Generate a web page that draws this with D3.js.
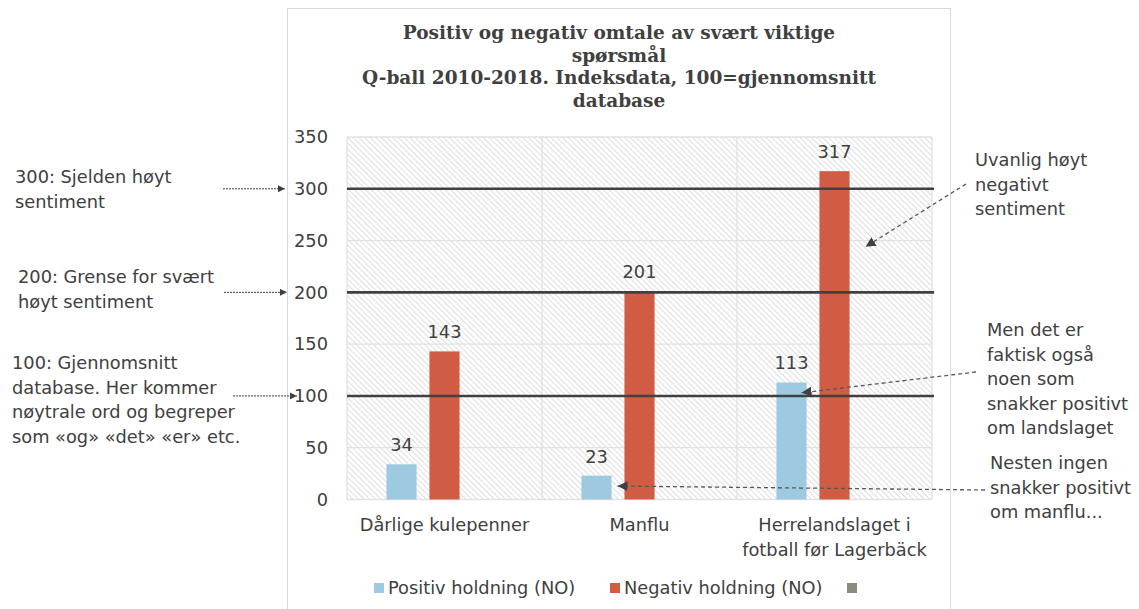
<!DOCTYPE html>
<meta charset="utf-8">
<script src="https://d3js.org/d3.v7.min.js"></script>
<style>
  body { margin: 0; background: #fff; }
  text { font-family: "DejaVu Sans", sans-serif; fill: #404040; }
</style>
<div id="my_dataviz"></div>
<script>

// chart data
var categories = ["Dårlige kulepenner", "Manflu", "Herrelandslaget i fotball før Lagerbäck"];
var categoryLines = [["Dårlige kulepenner"], ["Manflu"], ["Herrelandslaget i", "fotball før Lagerbäck"]];
var seriesNames = ["Positiv holdning (NO)", "Negativ holdning (NO)", ""];
var positiveValues = [34, 23, 113];
var negativeValues = [143, 201, 317];
var emptyValues = [null, null, null];
var yTicks = [0, 50, 100, 150, 200, 250, 300, 350];
var referenceLevels = [100, 200, 300];
var seriesColors = ["#9ecae1", "#d05c43", "#8c8b7e"];

var titleLines = ["Positiv og negativ omtale av svært viktige", "spørsmål",
    "Q-ball 2010-2018. Indeksdata, 100=gjennomsnitt", "database"];

// notes to the left point at the reference levels
var leftNotes = [
    { level: 300, lines: ["300: Sjelden høyt", "sentiment"] },
    { level: 200, lines: ["200: Grense for svært", "høyt sentiment"] },
    { level: 100, lines: ["100: Gjennomsnitt", "database. Her kommer", "nøytrale ord og begreper", "som «og» «det» «er» etc."] }
];
// notes to the right point at bars
var rightNotes = [
    { lines: ["Uvanlig høyt", "negativt", "sentiment"], cat: 2, series: 1, value: 244 },
    { lines: ["Men det er", "faktisk også", "noen som", "snakker positivt", "om landslaget"], cat: 2, series: 0, value: 103 },
    { lines: ["Nesten ingen", "snakker positivt", "om manflu..."], cat: 1, series: 0, value: 13 }
];

var W = 1139, H = 609;
var plot = { left: 347, right: 932, top: 137, bottom: 499.5 };
var fs = 17.8;

var svg = d3.select("#my_dataviz").append("svg")
    .attr("width", W).attr("height", H);

var defs = svg.append("defs");
var pat = defs.append("pattern")
    .attr("id", "hatch").attr("patternUnits", "userSpaceOnUse")
    .attr("width", 4).attr("height", 4)
    .attr("patternTransform", "rotate(-45)");
pat.append("rect").attr("width", 4).attr("height", 4).attr("fill", "#fff");
pat.append("line").attr("x1", 0).attr("y1", 0).attr("x2", 0).attr("y2", 4)
    .attr("stroke", "#d6d6d6").attr("stroke-width", 1.6);

defs.append("marker").attr("id", "headSmall")
    .attr("viewBox", "0 0 10 10").attr("refX", 10).attr("refY", 5)
    .attr("markerWidth", 7).attr("markerHeight", 7).attr("markerUnits", "userSpaceOnUse")
    .attr("orient", "auto")
    .append("path").attr("d", "M0,0L10,5L0,10z").attr("fill", "#404040");
defs.append("marker").attr("id", "headBig")
    .attr("viewBox", "0 0 10 10").attr("refX", 10).attr("refY", 5)
    .attr("markerWidth", 10).attr("markerHeight", 10).attr("markerUnits", "userSpaceOnUse")
    .attr("orient", "auto")
    .append("path").attr("d", "M0,0L10,5L0,10z").attr("fill", "#404040");

// chart frame
svg.append("rect")
    .attr("x", 287.5).attr("y", 8.5).attr("width", 663).attr("height", 620)
    .attr("fill", "#fff").attr("stroke", "#d9d9d9");

// scales
var x0 = d3.scaleBand().domain(categories).range([plot.left, plot.right]);
var x1 = d3.scaleBand().domain(d3.range(seriesNames.length))
    .range([0, x0.bandwidth()]).paddingInner(0.3).paddingOuter(0.917);
var y = d3.scaleLinear().domain([0, 350]).range([plot.bottom, plot.top]);

// plot background
svg.append("rect")
    .attr("x", plot.left).attr("y", plot.top)
    .attr("width", plot.right - plot.left).attr("height", plot.bottom - plot.top)
    .attr("fill", "url(#hatch)");

// gridlines
svg.append("g").selectAll("line").data(yTicks).join("line")
    .attr("x1", plot.left).attr("x2", plot.right)
    .attr("y1", function (d) { return y(d); }).attr("y2", function (d) { return y(d); })
    .attr("stroke", "#e2e2e2").attr("stroke-width", 1.3);
var bounds = categories.map(function (c) { return x0(c); }).concat([plot.right]);
svg.append("g").selectAll("line").data(bounds).join("line")
    .attr("x1", function (d) { return d; }).attr("x2", function (d) { return d; })
    .attr("y1", plot.top).attr("y2", plot.bottom)
    .attr("stroke", "#e2e2e2").attr("stroke-width", 1.3);

// y axis labels
var yAxis = svg.append("g")
    .attr("transform", "translate(" + (plot.left - 19) + ",0)")
    .call(d3.axisLeft(y).tickValues(yTicks).tickSize(0).tickPadding(0));
yAxis.select(".domain").remove();
yAxis.selectAll("text").attr("font-size", fs).attr("fill", "#404040")
    .attr("font-family", "'DejaVu Sans', sans-serif");

// bars
var allSeries = [positiveValues, negativeValues, emptyValues];
var barData = [];
categories.forEach(function (c, i) {
    allSeries.forEach(function (vals, s) {
        if (vals[i] != null) barData.push({ cat: c, s: s, v: vals[i] });
    });
});
svg.append("g").selectAll("rect").data(barData).join("rect")
    .attr("x", function (d) { return x0(d.cat) + x1(d.s); })
    .attr("width", x1.bandwidth())
    .attr("y", function (d) { return y(d.v); })
    .attr("height", function (d) { return y(0) - y(d.v); })
    .attr("fill", function (d) { return seriesColors[d.s]; });

// reference lines
svg.append("g").selectAll("line").data(referenceLevels).join("line")
    .attr("x1", plot.left).attr("x2", plot.right + 2)
    .attr("y1", function (d) { return y(d); }).attr("y2", function (d) { return y(d); })
    .attr("stroke", "#404040").attr("stroke-width", 2.6);

// data labels
svg.append("g").selectAll("text").data(barData).join("text")
    .attr("x", function (d) { return x0(d.cat) + x1(d.s) + x1.bandwidth() / 2; })
    .attr("y", function (d) { return y(d.v) - 13; })
    .attr("text-anchor", "middle").attr("font-size", fs)
    .text(function (d) { return d.v; });

// category labels
var xl = svg.append("g").selectAll("text").data(categories).join("text")
    .attr("x", function (d) { return x0(d) + x0.bandwidth() / 2; })
    .attr("y", 531).attr("text-anchor", "middle").attr("font-size", fs);
xl.each(function (d, i) {
    var t = d3.select(this);
    categoryLines[i].forEach(function (line, k) {
        t.append("tspan").attr("x", x0(d) + x0.bandwidth() / 2)
            .attr("dy", k === 0 ? 0 : 25).text(line);
    });
});

// title
svg.append("text")
    .attr("x", 619).attr("y", 39).attr("text-anchor", "middle")
    .style("font-family", "'DejaVu Serif', serif").attr("font-weight", "bold")
    .attr("font-size", 18.5).attr("fill", "#404040")
    .selectAll("tspan").data(titleLines).join("tspan")
    .attr("x", 619).attr("dy", function (d, i) { return i === 0 ? 0 : 22.7; })
    .text(function (d) { return d; });

// legend
var legendX = [374, 610, 847];
var legend = svg.append("g").selectAll("g").data(seriesNames).join("g")
    .attr("transform", function (d, i) { return "translate(" + legendX[i] + ",588)"; });
legend.append("rect").attr("x", 0).attr("y", -5).attr("width", 10).attr("height", 10)
    .attr("fill", function (d, i) { return seriesColors[i]; });
legend.append("text").attr("x", 14).attr("dy", "0.35em").attr("font-size", fs)
    .text(function (d) { return d; });

// left notes with arrows to the axis
var leftX = [15, 18, 12];
var leftFirstY = [177, 277, 363];
leftNotes.forEach(function (n, i) {
    var t = svg.append("text").attr("x", leftX[i]).attr("y", leftFirstY[i])
        .attr("font-size", fs);
    n.lines.forEach(function (line, k) {
        t.append("tspan").attr("x", leftX[i]).attr("dy", k === 0 ? "0.35em" : 24.5).text(line);
    });
});
var leftArrowStart = [223, 224, 233];
var leftArrowEnd = [285, 287, 297];
svg.append("g").selectAll("line").data(leftNotes).join("line")
    .attr("x1", function (d, i) { return leftArrowStart[i]; })
    .attr("x2", function (d, i) { return leftArrowEnd[i]; })
    .attr("y1", function (d) { return y(d.level); })
    .attr("y2", function (d) { return y(d.level); })
    .attr("stroke", "#404040").attr("stroke-width", 1)
    .attr("stroke-dasharray", "2,1")
    .attr("marker-end", "url(#headSmall)");

// right notes with arrows to bars
var rightX = [975, 987, 990];
var rightFirstY = [160, 330, 463];
var rightStart = [[966, 184], [976, 372], [985, 490]];
var tipDx = [16, -5, 6];
rightNotes.forEach(function (n, i) {
    var t = svg.append("text").attr("x", rightX[i]).attr("y", rightFirstY[i]).attr("font-size", fs);
    n.lines.forEach(function (line, k) {
        t.append("tspan").attr("x", rightX[i]).attr("dy", k === 0 ? "0.35em" : 24.5).text(line);
    });
    var cat = categories[n.cat];
    var tipX = x0(cat) + x1(n.series) + x1.bandwidth() + tipDx[i];
    var tipY = y(n.value);
    svg.append("line")
        .attr("x1", rightStart[i][0]).attr("y1", rightStart[i][1])
        .attr("x2", tipX).attr("y2", tipY)
        .attr("stroke", "#595959").attr("stroke-width", 1.3)
        .attr("stroke-dasharray", "4,3")
        .attr("marker-end", "url(#headBig)");
});

</script>
